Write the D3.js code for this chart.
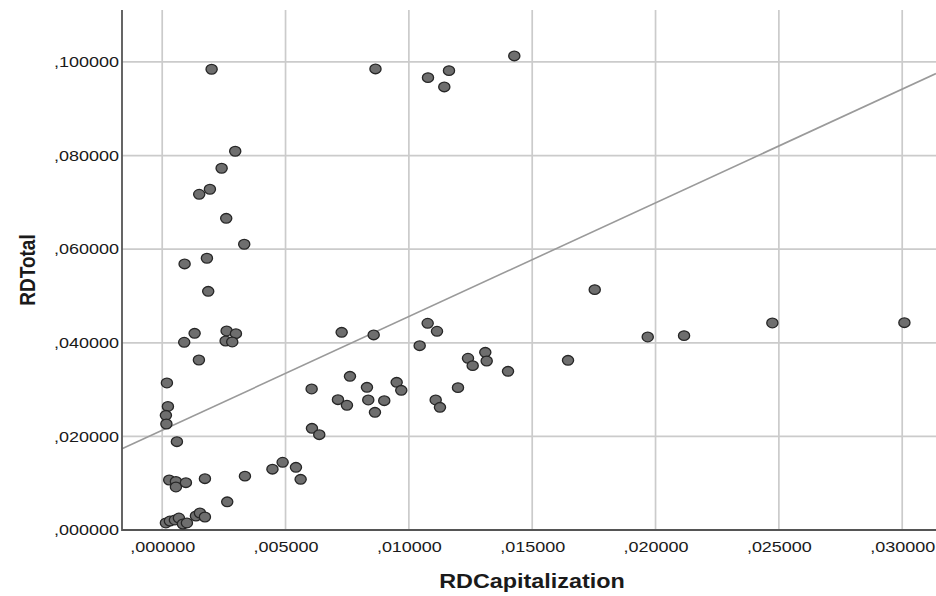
<!DOCTYPE html>
<html>
<head>
<meta charset="utf-8">
<script src="https://cdn.jsdelivr.net/npm/d3@7"></script>
<style>
  html, body { margin: 0; padding: 0; background: #ffffff; }
  svg { display: block; }
  text { font-family: "Liberation Sans", Arial, sans-serif; fill: #1a1a1a; }
</style>
</head>
<body>
<svg id="chart" width="936" height="596"></svg>
<script>
// ---- data ----
const rdCapitalization = [
  0.002003, 0.008646, 0.011626, 0.010775, 0.011436, 0.014274,
  0.002960, 0.002409, 0.001934, 0.001500, 0.002595, 0.003325,
  0.001813, 0.000908, 0.001865, 0.001314, 0.000892, 0.002612,
  0.002989, 0.002571, 0.002839, 0.001488, 0.000191, 0.000231,
  0.000150, 0.000170, 0.000596, 0.000284, 0.000556, 0.000556,
  0.000961, 0.001732, 0.003354, 0.002636, 0.004469, 0.004882,
  0.005422, 0.005612, 0.006071, 0.006367, 0.000150, 0.000312,
  0.000515, 0.000677, 0.000839, 0.001002, 0.001367, 0.001529,
  0.001732, 0.007275, 0.008573, 0.010762, 0.011140, 0.010438,
  0.012397, 0.013098, 0.012587, 0.013155, 0.014019, 0.011991,
  0.011087, 0.011261, 0.007612, 0.006058, 0.008301, 0.009505,
  0.009692, 0.007125, 0.007490, 0.008354, 0.009002, 0.008625,
  0.017535, 0.016452, 0.019684, 0.021156, 0.024736, 0.030089
];
const rdTotal = [
  0.09844, 0.09850, 0.09814, 0.09665, 0.09466, 0.10128,
  0.08092, 0.07729, 0.07280, 0.07173, 0.06660, 0.06105,
  0.05806, 0.05684, 0.05100, 0.04203, 0.04011, 0.04252,
  0.04194, 0.04038, 0.04017, 0.03632, 0.03141, 0.02639,
  0.02451, 0.02265, 0.01887, 0.01068, 0.01036, 0.00919,
  0.01011, 0.01096, 0.01150, 0.00603, 0.01299, 0.01447,
  0.01340, 0.01083, 0.02173, 0.02036, 0.00150, 0.00192,
  0.00214, 0.00256, 0.00128, 0.00150, 0.00299, 0.00363,
  0.00278, 0.04224, 0.04167, 0.04417, 0.04246, 0.03938,
  0.03669, 0.03797, 0.03511, 0.03611, 0.03391, 0.03041,
  0.02778, 0.02622, 0.03284, 0.03013, 0.03049, 0.03156,
  0.02985, 0.02784, 0.02665, 0.02778, 0.02763, 0.02515,
  0.05135, 0.03626, 0.04124, 0.04152, 0.04423, 0.04429
];
const xTicks = [0, 0.005, 0.010, 0.015, 0.020, 0.025, 0.030];
const yTicks = [0, 0.02, 0.04, 0.06, 0.08, 0.10];
const xDomain = [-0.00163, 0.03137];
const yDomain = [0, 0.1111];
const fitIntercept = 0.0213;
const fitSlope = 2.43;
const xTitle = "RDCapitalization";
const yTitle = "RDTotal";

// ---- layout ----
const svg = d3.select("#chart");
const L = 122, R = 936, T = 10, B = 530;
const SX = 1.2; // horizontal stretch seen in the reference

const x = d3.scaleLinear().domain(xDomain).range([L, R]);
const y = d3.scaleLinear().domain(yDomain).range([B, T]);

// SPSS-style decimal comma without leading zero: ,100000
const fmt = v => d3.format(".6f")(v).replace(/^0/, "").replace(".", ",");

// grid
const grid = svg.append("g");
grid.selectAll("line.v").data(xTicks).join("line")
  .attr("x1", d => x(d)).attr("x2", d => x(d))
  .attr("y1", T).attr("y2", B)
  .attr("stroke", "#cbcbcb").attr("stroke-width", 1.7);
grid.selectAll("line.h").data(yTicks.filter(d => d > 0)).join("line")
  .attr("x1", L).attr("x2", R)
  .attr("y1", d => y(d)).attr("y2", d => y(d))
  .attr("stroke", "#cbcbcb").attr("stroke-width", 1.7);

// fit line
const fitData = xDomain.map(v => [v, fitIntercept + fitSlope * v]);
svg.append("path")
  .datum(fitData)
  .attr("d", d3.line().x(d => x(d[0])).y(d => y(d[1])))
  .attr("fill", "none").attr("stroke", "#9a9a9a").attr("stroke-width", 1.6);

// axes
const xAxis = svg.append("g").attr("transform", `translate(0,${B})`)
  .call(d3.axisBottom(x).tickValues(xTicks).tickFormat(fmt).tickSize(0).tickPadding(11));
const yAxis = svg.append("g").attr("transform", `translate(${L},0)`)
  .call(d3.axisLeft(y).tickValues(yTicks).tickFormat(fmt).tickSize(0).tickPadding(3));
[xAxis, yAxis].forEach(g => {
  g.select(".domain").remove();
  g.selectAll("text")
    .attr("font-size", 15)
    .attr("font-family", "'Liberation Sans', Arial, sans-serif")
    .attr("fill", "#1a1a1a")
    .attr("transform", `scale(${SX},1)`);
});
yAxis.selectAll("text").attr("x", -3 / SX);

// axis lines
svg.append("line").attr("x1", L).attr("x2", L).attr("y1", T).attr("y2", B + 1)
  .attr("stroke", "#555").attr("stroke-width", 1.8);
svg.append("line").attr("x1", L).attr("x2", R).attr("y1", B).attr("y2", B)
  .attr("stroke", "#555").attr("stroke-width", 1.8);

// points
const pts = rdCapitalization.map((v, i) => ({ cx: v, cy: rdTotal[i] }));
svg.append("g").selectAll("ellipse").data(pts).join("ellipse")
  .attr("cx", d => x(d.cx)).attr("cy", d => y(d.cy))
  .attr("rx", 5.6).attr("ry", 4.8)
  .attr("fill", "#6e6e6e").attr("stroke", "#262626").attr("stroke-width", 1.3);

// titles
svg.append("text")
  .attr("transform", `translate(${(L + R) / 2 + 3},588) scale(${SX},1)`)
  .attr("text-anchor", "middle").attr("font-size", 19.5).attr("font-weight", "bold")
  .text(xTitle);
svg.append("text")
  .attr("transform", `translate(35,${(T + B) / 2}) scale(${SX},1) rotate(-90)`)
  .attr("text-anchor", "middle").attr("font-size", 19).attr("font-weight", "bold")
  .text(yTitle);
</script>
</body>
</html>
